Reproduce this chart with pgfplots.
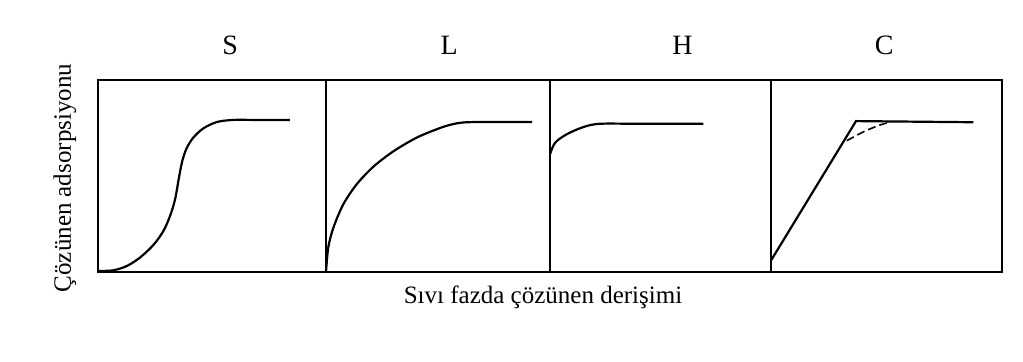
\documentclass[border=0pt]{standalone}
\usepackage{pgfplots}
\pgfplotsset{compat=1.18}
\usepackage{fontspec}
\setmainfont{Liberation Serif}

\pgfplotsset{
  panel/.style={scale only axis, anchor=south west, height=96pt,
    xmin=0, xmax=1, ymin=0, ymax=1, xtick=\empty, ytick=\empty,
    axis line style={line width=0.9pt}, clip=false,
    title style={anchor=center, font=\fontsize{14}{14}\selectfont, yshift=11.5pt},
    every axis plot/.append style={black, no markers, line width=1.1pt}},
}

\begin{document}
\begin{tikzpicture}
  \useasboundingbox (0,0) rectangle (511.5pt,180.5pt);

  % S
  \begin{axis}[panel, at={(49pt,44.5pt)}, width=114pt,
      title={S}, title style={at={(axis description cs:0.58,1)}}]
    \addplot[black, smooth] coordinates {
      (0,0.005) (0.067,0.009) (0.126,0.031) (0.184,0.075) (0.243,0.141)
      (0.287,0.214) (0.316,0.292) (0.338,0.378) (0.355,0.491) (0.370,0.580)
      (0.389,0.645) (0.418,0.700) (0.462,0.748) (0.521,0.781) (0.593,0.792)
      (0.70,0.792) (0.842,0.792)};
  \end{axis}

  % L
  \begin{axis}[panel, at={(163pt,44.5pt)}, width=112pt,
      title={L}, title style={at={(axis description cs:0.55,1)}}]
    \addplot[black, smooth] coordinates {
      (0,0) (0.010,0.127) (0.033,0.231) (0.077,0.352) (0.137,0.457)
      (0.211,0.548) (0.300,0.628) (0.405,0.700) (0.509,0.750) (0.57,0.771)
      (0.628,0.780) (0.75,0.781) (0.92,0.781)};
  \end{axis}

  % H
  \begin{axis}[panel, at={(275pt,44.5pt)}, width=110.5pt,
      title={H}, title style={at={(axis description cs:0.60,1)}}]
    \addplot[black, smooth] coordinates {
      (0,0.613) (0.023,0.673) (0.075,0.717) (0.151,0.755) (0.226,0.772)
      (0.40,0.772) (0.694,0.772)};
  \end{axis}

  % C
  \begin{axis}[panel, at={(385.5pt,44.5pt)}, width=115.5pt,
      title={C}, title style={at={(axis description cs:0.49,1)}}]
    \addplot[black] coordinates {(0,0.06) (0.368,0.786) (0.876,0.78)};
    \addplot[black, line width=0.8pt, dash pattern=on 4pt off 2pt, smooth]
      coordinates {(0.328,0.684) (0.40,0.73) (0.47,0.765) (0.52,0.782)};
  \end{axis}

  \node[font=\fontsize{12.5}{12.5}\selectfont] at (271.5pt,32pt) {Sıvı fazda çözünen derişimi};
  \node[font=\fontsize{12.5}{12.5}\selectfont, rotate=90] at (32.5pt,91.5pt) {Çözünen adsorpsiyonu};
\end{tikzpicture}
\end{document}
